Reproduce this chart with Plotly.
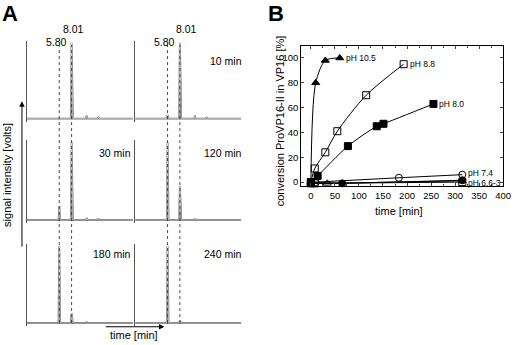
import plotly.graph_objects as go

# ---------------- Panel A: HPLC chromatograms ----------------
retention_times = [5.80, 8.01]
retention_labels = ["5.80", "8.01"]
chrom_labels = ["", "10 min", "30 min", "120 min", "180 min", "240 min"]
chrom_time = [0.0, 5.68, 5.80, 5.97, 7.88, 8.01, 8.24, 10.55, 10.70, 10.85, 12.65, 12.80, 12.95, 19.0]
chrom_0 = [0, 0, 0.00, 0, 0, 1.00, 0, 0, 0.04, 0, 0, 0.02, 0, 0]
chrom_10 = [0, 0, 0.05, 0, 0, 1.00, 0, 0, 0.04, 0, 0, 0.02, 0, 0]
chrom_30 = [0, 0, 0.18, 0, 0, 1.00, 0, 0, 0.03, 0, 0, 0.01, 0, 0]
chrom_120 = [0, 0, 1.00, 0, 0, 0.44, 0, 0, 0.01, 0, 0, 0.00, 0, 0]
chrom_180 = [0, 0, 1.00, 0, 0, 0.13, 0, 0, 0.01, 0, 0, 0.00, 0, 0]
chrom_240 = [0, 0, 1.00, 0, 0, 0.03, 0, 0, 0.00, 0, 0, 0.00, 0, 0]

# ---------------- Panel B: conversion vs time ----------------
ph105_t = [0, 10, 30, 60]
ph105_c = [0, 80, 98, 100]
ph88_t = [0, 8, 30, 55, 115, 193]
ph88_c = [0, 11, 24, 41, 70, 95]
ph80_t = [0, 14, 77, 137, 151, 255]
ph80_c = [0, 5, 29, 45, 47, 63]
ph74_t = [0, 10, 183, 315]
ph74_c = [0, 0, 3.5, 6]
ph66_t = [0, 34, 315]
ph66_c = [-1, -1, 1]
ph3_t = [0, 65, 315]
ph3_c = [0, -1, 1.5]
ph5_t = [0, 8, 315]
ph5_c = [-1, -1, 0]
series_labels = ["pH 10.5", "pH 8.8", "pH 8.0", "pH 7.4", "pH 6.6-3"]

FONT = "Liberation Sans, Arial, Helvetica, sans-serif"
W, H = 520, 345


def pxx(p):
    return p / W


def pxy(p):
    return 1 - p / H


fig = go.Figure()
layout = {}
annotations = []

col_px = [(27.3, 135.0), (137.3, 245.0)]
row_px = [(43.0, 119.0), (143.0, 220.7), (246.7, 324.0)]
label_y = [0.75, 0.845, 0.87]
label_x = [1.0, 1.03]
YLO, YHI = -0.04, 1.03
XR = [0, 19]
chroms = [chrom_0, chrom_10, chrom_30, chrom_120, chrom_180, chrom_240]

for i, (lab, inten) in enumerate(zip(chrom_labels, chroms)):
    r, c = divmod(i, 2)
    n = i + 2
    top, base = row_px[r]
    span = base - top
    dom_top = top - (YHI - 1) * span
    dom_bot = base - YLO * span
    layout[f"xaxis{n}"] = dict(domain=[pxx(col_px[c][0]), pxx(col_px[c][1])], range=XR,
                              visible=False, anchor=f"y{n}")
    layout[f"yaxis{n}"] = dict(domain=[pxy(dom_bot), pxy(dom_top)], range=[YLO, YHI],
                              showline=True, linecolor="#555", linewidth=1, ticks="",
                              showticklabels=False, showgrid=False, zeroline=False,
                              anchor=f"x{n}")
    fig.add_trace(go.Scatter(x=chrom_time, y=inten, xaxis=f"x{n}", yaxis=f"y{n}",
                             mode="lines", line=dict(color="#6a6a6a", width=1.9),
                             hoverinfo="skip", showlegend=False))
    fig.add_trace(go.Scatter(x=chrom_time, y=inten, xaxis=f"x{n}", yaxis=f"y{n}",
                             mode="lines", line=dict(color="white", width=0.55),
                             hoverinfo="skip", showlegend=False))
    if lab:
        annotations.append(dict(text=lab, xref=f"x{n} domain", yref=f"y{n} domain",
                                x=label_x[c], y=label_y[r], xanchor="right", yanchor="middle",
                                showarrow=False, font=dict(size=10.5, color="black", family=FONT)))
    if r == 0:
        for rt, rl, yy, xs in zip(retention_times, retention_labels, [0.985, 1.145], [-3, 2 + 5 * c]):
            annotations.append(dict(text=rl, xref=f"x{n}", yref=f"y{n} domain", x=rt, y=yy,
                                    xanchor="center", yanchor="middle", xshift=xs, showarrow=False,
                                    font=dict(size=10.5, color="black", family=FONT)))

# dotted retention-time lines spanning all rows
for c in range(2):
    n = 8 + c
    layout[f"xaxis{n}"] = dict(domain=[pxx(col_px[c][0]), pxx(col_px[c][1])], range=XR,
                              visible=False, anchor=f"y{n}")
    layout[f"yaxis{n}"] = dict(domain=[pxy(324), pxy(45)], range=[0, 1], visible=False,
                              anchor=f"x{n}")
    xs, ys = [], []
    for rt in retention_times:
        xs += [rt, rt, None]
        ys += [0, 1, None]
    fig.add_trace(go.Scatter(x=xs, y=ys, xaxis=f"x{n}", yaxis=f"y{n}", mode="lines",
                             line=dict(color="#333", width=0.9, dash="dot"),
                             hoverinfo="skip", showlegend=False))

# arrows and titles of panel A
annotations.append(dict(x=pxx(22.3), y=pxy(101.5), xref="paper", yref="paper", ax=0, ay=147,
                        text="", showarrow=True, arrowhead=2, arrowsize=1.1, arrowwidth=1,
                        arrowcolor="black"))
annotations.append(dict(x=pxx(167), y=pxy(327.7), xref="paper", yref="paper", ax=-60, ay=0,
                        text="", showarrow=True, arrowhead=2, arrowsize=1.1, arrowwidth=1,
                        arrowcolor="black"))
annotations.append(dict(text="signal intensity [volts]", x=pxx(7.5), y=pxy(175), xref="paper",
                        yref="paper", textangle=-90, showarrow=False, xanchor="center",
                        yanchor="middle", font=dict(size=11, color="black", family=FONT)))
annotations.append(dict(text="time [min]", x=pxx(136), y=pxy(336), xref="paper", yref="paper",
                        showarrow=False, xanchor="center", yanchor="middle",
                        font=dict(size=11, color="black", family=FONT)))
annotations.append(dict(text="<b>A</b>", x=pxx(10), y=pxy(13.5), xref="paper", yref="paper",
                        showarrow=False, xanchor="center", yanchor="middle",
                        font=dict(size=22, color="black", family=FONT)))
annotations.append(dict(text="<b>B</b>", x=pxx(280), y=pxy(13.5), xref="paper", yref="paper",
                        showarrow=False, xanchor="center", yanchor="middle",
                        font=dict(size=22, color="black", family=FONT)))

# ---------------- Panel B traces ----------------
b_series = [
    (ph105_t, ph105_c, "triangle-up", "black", "spline"),
    (ph88_t, ph88_c, "square-open", "black", "spline"),
    (ph80_t, ph80_c, "square", "black", "spline"),
    (ph74_t, ph74_c, "circle-open", "black", "linear"),
    (ph66_t, ph66_c, "triangle-up-open", "black", "linear"),
    (ph5_t, ph5_c, "square-open", "black", "linear"),
    (ph3_t, ph3_c, "circle", "black", "linear"),
]
for t, cv, sym, col, shape in b_series:
    fig.add_trace(go.Scatter(x=t, y=cv, mode="lines+markers",
                             line=dict(color="black", width=1, shape=shape, smoothing=0.8),
                             marker=dict(symbol=sym, color=col, size=7,
                                         line=dict(color="black", width=1)),
                             showlegend=False, hoverinfo="skip", cliponaxis=False))

label_src = [(ph105_t, ph105_c, 0), (ph88_t, ph88_c, 0), (ph80_t, ph80_c, 0),
             (ph74_t, ph74_c, 2), (ph3_t, ph3_c, -3)]
for lab, (t, cv, ysh) in zip(series_labels, label_src):
    annotations.append(dict(text=lab, x=t[-1], y=cv[-1], xref="x", yref="y", xanchor="left",
                            yanchor="middle", xshift=4, yshift=ysh, showarrow=False,
                            font=dict(size=8.5, color="black", family=FONT)))

annotations.append(dict(text="conversion ProVP16-II in VP16 [%]", x=pxx(284), y=pxy(121),
                        xref="paper", yref="paper", textangle=-90, showarrow=False,
                        xanchor="center", yanchor="middle",
                        font=dict(size=11, color="black", family=FONT)))
annotations.append(dict(text="time [min]", x=pxx(405), y=pxy(212), xref="paper", yref="paper",
                        showarrow=False, xanchor="center", yanchor="middle",
                        font=dict(size=11, color="black", family=FONT)))

layout["xaxis"] = dict(domain=[pxx(306), pxx(511)], range=[-20, 400], tick0=0, dtick=50,
                       ticks="inside", ticklen=3, showline=True, mirror="ticks",
                       linecolor="black", linewidth=1, showgrid=False, zeroline=False,
                       tickfont=dict(size=9.5, color="black", family=FONT),
                       minor=dict(dtick=25, ticks="inside", ticklen=2), anchor="y")
layout["yaxis"] = dict(domain=[pxy(187), pxy(45.7)], range=[-3.5, 110], tick0=0, dtick=20,
                       ticks="inside", ticklen=3, showline=True, mirror="ticks",
                       linecolor="black", linewidth=1, showgrid=False, zeroline=False,
                       tickfont=dict(size=9.5, color="black", family=FONT), anchor="x")

fig.update_layout(width=W, height=H, margin=dict(l=0, r=0, t=0, b=0),
                  paper_bgcolor="white", plot_bgcolor="rgba(0,0,0,0)",
                  font=dict(family=FONT, color="black"), annotations=annotations, **layout)
fig.write_html("out.html", config={"displayModeBar": False},
               post_script="document.body.style.margin='0';document.body.style.padding='0';")
